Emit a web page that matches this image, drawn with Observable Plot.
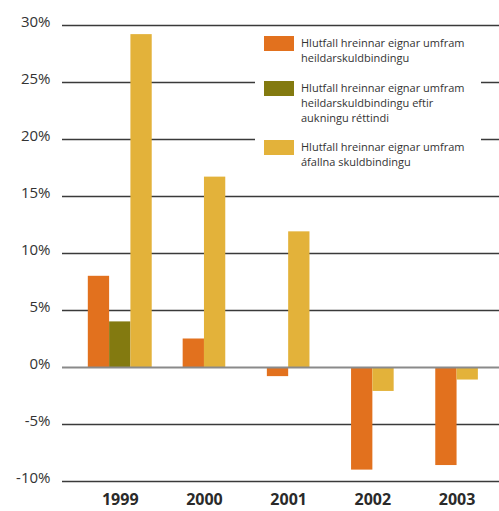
<!DOCTYPE html>
<html>
<head>
<meta charset="utf-8">
<script src="https://cdn.jsdelivr.net/npm/d3@7"></script>
<script src="https://cdn.jsdelivr.net/npm/@observablehq/plot@0.6"></script>
<style>
  html, body { margin: 0; padding: 0; background: #fff; }
  #wrap { position: relative; width: 499px; height: 511px; overflow: hidden; }
  #legend { position: absolute; left: 255px; top: 29px; width: 226px; height: 160px; background: #fff;
            font-family: "Open Sans", sans-serif; font-size: 11px; line-height: 15px; color: #333; }
  .item { position: absolute; left: 9px; }
  .sw { position: absolute; left: 0; top: 0; width: 30px; height: 15px; }
  .lab { position: absolute; left: 37px; top: -1px; width: 185px; }
</style>
</head>
<body>
<div id="wrap"><div id="chart"></div><div id="legend"></div></div>
<script>
const years = ["1999", "2000", "2001", "2002", "2003"];
const seriesNames = [
  "Hlutfall hreinnar eignar umfram heildarskuldbindingu",
  "Hlutfall hreinnar eignar umfram heildarskuldbindingu eftir aukningu réttindi",
  "Hlutfall hreinnar eignar umfram áfallna skuldbindingu"
];
const legendLines = [
  ["Hlutfall hreinnar eignar umfram", "heildarskuldbindingu"],
  ["Hlutfall hreinnar eignar umfram", "heildarskuldbindingu eftir", "aukningu réttindi"],
  ["Hlutfall hreinnar eignar umfram", "áfallna skuldbindingu"]
];
const seriesColors = ["#E2711E", "#837A10", "#E3B23A"];
const valuesHeild = [8.0, 2.5, -0.8, -9.0, -8.6];
const valuesEftir = [4.0, null, null, null, null];
const valuesAfallna = [29.2, 16.7, 11.9, -2.1, -1.1];
const yTicks = [-10, -5, 0, 5, 10, 15, 20, 25, 30];

const allValues = [valuesHeild, valuesEftir, valuesAfallna];
const barW = 0.253;
const rows = [];
years.forEach((yr, i) => {
  const present = allValues.map((vals, s) => ({s, v: vals[i]})).filter(d => d.v != null);
  const n = present.length;
  present.forEach((d, k) => {
    const x1 = i + (k - n / 2) * barW;
    rows.push({year: yr, series: seriesNames[d.s], value: d.v, x1, x2: x1 + barW});
  });
});

const chart = Plot.plot({
  width: 499,
  height: 511,
  marginTop: 25,
  marginBottom: 30,
  marginLeft: 62,
  marginRight: 0,
  style: {fontFamily: "'Open Sans', sans-serif", color: "#333", background: "#fff"},
  x: {domain: [-0.686, 4.504], axis: null},
  y: {domain: [-10, 30], axis: null},
  color: {domain: seriesNames, range: seriesColors},
  marks: [
    Plot.ruleY(yTicks.filter(t => t !== 0), {stroke: "#3a3a3a", strokeWidth: 1.6}),
    Plot.rectY(rows, {x1: "x1", x2: "x2", y1: 0, y2: "value", fill: "series"}),
    Plot.ruleY([0], {stroke: "#8a8a8a", strokeWidth: 2}),
    Plot.axisY({ticks: yTicks, tickFormat: d => d + "%", tickSize: 0, tickPadding: 12, fontSize: 15, dy: -3, fill: "#333", label: null}),
    Plot.axisX({ticks: d3.range(years.length), tickFormat: i => years[i], tickSize: 0, tickPadding: 12, fontSize: 16, fontWeight: "bold", fill: "#2a2a2a", label: null})
  ]
});
document.getElementById("chart").appendChild(chart);

// Legend overlay
const legend = document.getElementById("legend");
const itemTops = [7, 52, 111];
legendLines.forEach((lines, s) => {
  const item = document.createElement("div");
  item.className = "item";
  item.style.top = itemTops[s] + "px";
  const sw = document.createElement("div");
  sw.className = "sw";
  sw.style.background = seriesColors[s];
  const lab = document.createElement("div");
  lab.className = "lab";
  lab.innerHTML = lines.join("<br>");
  item.appendChild(sw);
  item.appendChild(lab);
  legend.appendChild(item);
});
</script>
</body>
</html>
